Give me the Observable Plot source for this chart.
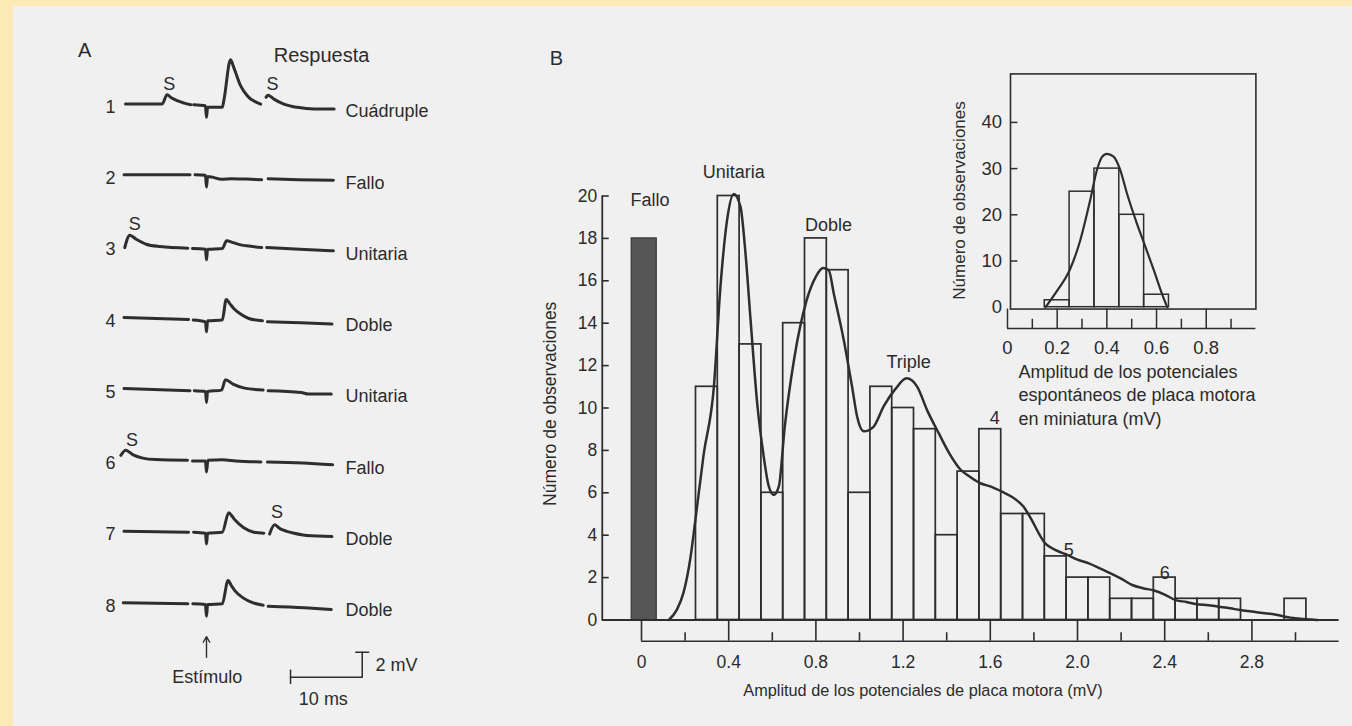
<!DOCTYPE html>
<html><head><meta charset="utf-8">
<script src="https://cdn.jsdelivr.net/npm/d3@7"></script>
<script src="https://cdn.jsdelivr.net/npm/@observablehq/plot@0.6"></script>
<style>
html,body{margin:0;padding:0;}
body{width:1352px;height:726px;background:#fbeab6;overflow:hidden;position:relative;font-family:"Liberation Sans",Arial,sans-serif;}
#page{position:absolute;left:13px;top:6px;right:0;bottom:0;background:#f0f0f0;}
#fig{position:absolute;left:0;top:0;width:1352px;height:726px;}
</style></head><body><div id="page"></div><div id="fig"></div>
<script>
// ---------------- Panel A: intracellular traces (t in ms from stimulus, v in mV from baseline) ----------------
const rowNumbers = ["1","2","3","4","5","6","7","8"];
const responseLabels = ["Cuádruple","Fallo","Unitaria","Doble","Unitaria","Fallo","Doble","Doble"];
const trace1 = [
  [[-11.3,0],[-6.2,0],[-5.5,0.75],[-4.9,0.5],[-4.1,0.27],[-3.1,0.08],[-2.2,-0.05]],
  [[-1.8,-0.05],[-0.15,-0.13],[0,-1.06],[0.15,-0.26],[2.2,-0.26],[2.45,0.4],[3.35,3.55],[3.7,3.1],[4.05,2.54],[4.75,1.47],[5.3,0.95],[5.9,0.54],[6.7,0.22],[7.55,0]],
  [[8.3,0.55],[8.6,0.7],[9.4,0.4],[10.8,0],[12.65,-0.26],[15.0,-0.4],[17.8,-0.4]]
];
const trace2 = [
  [[-11.5,0.05],[-2.3,0.05]],
  [[-1.6,0.05],[-0.15,0],[0,-0.93],[0.15,-0.1],[0.7,-0.13],[2.1,-0.32],[3.5,-0.27],[5.5,-0.3],[7.7,-0.35]],
  [[8.6,-0.27],[12.8,-0.35],[17.7,-0.4]]
];
const trace3 = [
  [[-11.4,-0.08],[-10.7,0.91],[-9.8,0.59],[-8.4,0.19],[-6.5,0],[-2.6,-0.13]],
  [[-1.95,-0.16],[-0.15,-0.21],[0,-1.06],[0.15,-0.21],[2.2,-0.16],[2.8,0.46],[3.7,0.32],[4.6,0.16],[5.6,0.06],[7.7,-0.08]],
  [[8.4,-0.08],[13.0,-0.21],[17.7,-0.34]]
];
const trace4 = [
  [[-11.5,0.03],[-2.5,-0.13]],
  [[-1.85,-0.18],[-0.15,-0.32],[0,-1.12],[0.15,-0.24],[2.2,-0.18],[2.75,1.47],[3.3,1.1],[3.8,0.75],[4.75,0.3],[5.9,-0.05],[7.8,-0.24]],
  [[8.5,-0.32],[13.1,-0.4],[17.5,-0.5]]
];
const trace5 = [
  [[-11.5,0.05],[-2.3,-0.13]],
  [[-1.7,-0.13],[-0.15,-0.19],[0,-1.07],[0.15,-0.19],[2.1,-0.08],[2.65,0.75],[3.7,0.4],[5.3,0.08],[7.9,-0.08]],
  [[8.6,-0.13],[13.2,-0.27],[14.2,-0.4],[17.4,-0.4]]
];
const trace6 = [
  [[-11.95,0.4],[-11.25,0.8],[-10.3,0.46],[-8.9,0.18],[-7.1,0.06],[-2.65,0]],
  [[-1.95,-0.05],[-0.15,-0.05],[0,-0.93],[0.2,0],[2.2,0.05],[4.1,-0.05],[7.6,-0.13]],
  [[8.5,-0.13],[13.4,-0.21],[17.6,-0.35]]
];
const trace7 = [
  [[-11.5,0.03],[-2.5,-0.05]],
  [[-1.8,-0.05],[-0.15,-0.13],[0,-0.99],[0.15,-0.13],[2.2,-0.05],[3.1,1.5],[3.6,1.2],[4.05,0.88],[5.2,0.3],[6.6,-0.05],[8.0,-0.13]],
  [[8.8,-0.19],[9.5,0.54],[10.3,0.22],[11.2,0.02],[12.2,-0.13],[14.0,-0.32],[17.5,-0.4]]
];
const trace8 = [
  [[-11.6,0],[-2.6,-0.08]],
  [[-1.9,-0.08],[-0.15,-0.13],[0,-1.07],[0.15,-0.13],[2.2,-0.08],[3.0,1.78],[3.5,1.35],[3.95,0.98],[5.1,0.4],[6.5,0],[7.9,-0.19]],
  [[8.6,-0.27],[13.7,-0.4],[17.4,-0.54]]
];
const traces = [trace1, trace2, trace3, trace4, trace5, trace6, trace7, trace8];
// spontaneous miniature potentials marked "S": row index, time (ms), label height (mV)
const spontRow = [0, 0, 2, 5, 6];
const spontTime = [-5.2, 9.2, -10.0, -10.4, 9.85];
const spontLabelV = [1.6, 1.6, 1.8, 1.6, 1.55];
const scaleBarMs = 10, scaleBarMv = 2;

// ---------------- Panel B: histogram of end-plate potential amplitudes ----------------
const mainBinCenters = [0.3,0.4,0.5,0.6,0.7,0.8,0.9,1.0,1.1,1.2,1.3,1.4,1.5,1.6,1.7,1.8,1.9,2.0,2.1,2.2,2.3,2.4,2.5,2.6,2.7,2.8,2.9,3.0];
const mainCounts     = [11, 20, 13, 6, 14, 18, 16.5, 6, 11, 10, 9, 4, 7, 9, 5, 5, 3, 2, 2, 1, 1, 2, 1, 1, 1, 0, 0, 1];
const binWidth = 0.1;
const failureCount = 18;          // "Fallo" bar at 0 mV
const failureRange = [-0.045, 0.07];
const mainCurveX = [0.125,0.163,0.193,0.224,0.247,0.285,0.332,0.362,0.393,0.423,0.454,0.477,0.5,0.531,0.558,0.584,0.607,0.63,0.657,0.7,0.758,0.8,0.833,0.859,0.882,0.928,0.966,0.989,1.02,1.063,1.112,1.165,1.216,1.265,1.31,1.364,1.41,1.463,1.5,1.554,1.6,1.654,1.7,1.753,1.78,1.853,1.9,1.953,2.0,2.052,2.1,2.152,2.2,2.251,2.3,2.348,2.4,2.45,2.5,2.547,2.6,2.645,2.7,2.746,2.8,2.85,2.9,2.952,3.0,3.05,3.1];
const mainCurveY = [0,0.5,1.3,2.9,4.7,7.8,11.0,15.7,18.9,20.1,19.5,17.3,14.2,10.2,7.9,6.3,5.9,6.3,9.1,12.3,15.1,16.2,16.6,16.5,15.4,13.2,11.0,9.6,8.9,9.1,10.1,10.9,11.4,11.0,9.9,8.8,7.9,7.1,6.8,6.45,6.3,6.05,5.8,5.34,4.9,3.6,3.3,3.07,2.85,2.67,2.45,2.2,1.95,1.65,1.5,1.4,1.2,0.94,0.85,0.74,0.7,0.63,0.55,0.47,0.4,0.33,0.27,0.16,0.08,0.03,0];
const mainYTicks = [0,2,4,6,8,10,12,14,16,18,20];
const mainMajorTicks = [0,0.4,0.8,1.2,1.6,2.0,2.4,2.8];
const mainMinorTicks = [0.2,0.6,1.0,1.4,1.8,2.2,2.6,3.0];
const peakNames = ["Unitaria","Doble","Triple","4","5","6"];
const peakLabelX = [0.423,0.858,1.225,1.62,1.96,2.4];
const peakLabelY = [21.1,18.6,12.16,9.5,3.28,2.19];

// ---------------- Inset: miniature end-plate potentials ----------------
const insetBinCenters = [0.2,0.3,0.4,0.5,0.6];
const insetCounts = [1.5,25,30,20,2.7];
const insetCurveX = [0.153,0.2,0.25,0.293,0.333,0.36,0.38,0.4,0.427,0.452,0.481,0.521,0.553,0.589,0.622,0.643];
const insetCurveY = [0,3.6,8,14.5,23.2,29.7,32.5,33.2,32.6,30,24.6,18.1,13.4,8,2.9,0];
const insetYTicks = [0,10,20,30,40];
const insetMajorTicks = [0,0.2,0.4,0.6,0.8];
const insetMinorTicks = [0.1,0.3,0.5,0.7,0.9];
const insetXTitle = ["Amplitud de los potenciales","espontáneos de placa motora","en miniatura (mV)"];

// ---------------- drawing ----------------
const W = 1352, H = 726;
const INK = "#2e2e2e";
const fmt = d => d === 0 ? "0" : d.toFixed(1);
const baseStyle = {background:"transparent", overflow:"visible", position:"absolute", left:"0px", top:"0px",
  fontFamily:'"Liberation Sans", Arial, sans-serif', fontSize:"18px", color:"#2b2b2b"};
const fig = document.getElementById("fig");

// Panel A
const rowGap = 5.7;
const traceData = traces.flatMap((segs, r) => segs.flatMap((seg, s) =>
  seg.map(([t, v]) => ({t, Y: v - r * rowGap, key: r * 10 + s}))));
const rowText = rowNumbers.map((n, r) => ({n, lab: responseLabels[r], Y: -r * rowGap}));
const spont = spontRow.map((r, i) => ({t: spontTime[i], Y: spontLabelV[i] - r * rowGap}));
const sbT0 = 11.72, sbY = -45.85;
const scaleBar = [
  {k:0, t:sbT0, Y:sbY - 0.5}, {k:0, t:sbT0, Y:sbY + 0.55},
  {k:1, t:sbT0, Y:sbY}, {k:1, t:sbT0 + scaleBarMs, Y:sbY}, {k:1, t:sbT0 + scaleBarMs, Y:sbY + scaleBarMv},
  {k:2, t:sbT0 + scaleBarMs - 0.9, Y:sbY + scaleBarMv}, {k:2, t:sbT0 + scaleBarMs + 0.9, Y:sbY + scaleBarMv}
];

const plotA = Plot.plot({
  width: W, height: H,
  marginLeft: 105.62, marginRight: 959.58, marginTop: 30, marginBottom: 0,
  x: {domain: [-14, 26], axis: null},
  y: {domain: [-49.792, 5.888], axis: null},
  style: baseStyle,
  marks: [
    Plot.line(traceData, {x: "t", y: "Y", z: "key", curve: "monotone-x", stroke: INK, strokeWidth: 3, strokeLinecap: "round", strokeLinejoin: "round"}),
    Plot.text(rowText, {x: () => -13.4, y: d => d.Y - 0.24, text: "n", fontSize: 18}),
    Plot.text(rowText, {x: () => 19.39, y: d => d.Y - 0.6, text: "lab", textAnchor: "start", fontSize: 18}),
    Plot.text(spont, {x: "t", y: "Y", text: () => "S", fontSize: 18}),
    Plot.text(["A"], {x: () => -17.0, y: () => 4.29, fontSize: 20}),
    Plot.text(["Respuesta"], {x: () => 16.04, y: () => 3.89, fontSize: 20}),
    Plot.arrow([{x1: 0, y1: -44.25, x2: 0, y2: -42.6}], {x1: "x1", y1: "y1", x2: "x2", y2: "y2", stroke: INK, strokeWidth: 1.4, headLength: 7}),
    Plot.text(["Estímulo"], {x: () => 0.1, y: () => -45.85, fontSize: 18}),
    Plot.line(scaleBar, {x: "t", y: "Y", z: "k", stroke: INK, strokeWidth: 1.5}),
    Plot.text(["2 mV"], {x: () => 23.57, y: () => -44.9, textAnchor: "start", fontSize: 18}),
    Plot.text(["10 ms"], {x: () => 16.3, y: () => -47.6, fontSize: 18})
  ]
});
fig.appendChild(plotA);

// Panel B main histogram
const mainBins = mainBinCenters.map((c, i) => ({x1: c - binWidth / 2, x2: c + binWidth / 2, count: mainCounts[i]})).filter(d => d.count > 0);
const mainCurve = mainCurveX.map((x, i) => ({x, y: mainCurveY[i]}));
const peaks = peakNames.map((text, i) => ({text, x: peakLabelX[i], y: peakLabelY[i]}));

const plotB = Plot.plot({
  width: W, height: H,
  marginLeft: 601.76, marginRight: 13.4, marginTop: 167.94, marginBottom: 85.3,
  x: {domain: [-0.18, 3.2], axis: null},
  y: {domain: [-1, 21.3], axis: null},
  style: baseStyle,
  marks: [
    Plot.rect([{x1: failureRange[0], x2: failureRange[1], count: failureCount}], {x1: "x1", x2: "x2", y1: 0, y2: "count", fill: "#565656", stroke: "#3a3a3a", strokeWidth: 1.2}),
    Plot.rect(mainBins, {x1: "x1", x2: "x2", y1: 0, y2: "count", fill: "none", stroke: INK, strokeWidth: 1.7}),
    Plot.line(mainCurve, {x: "x", y: "y", curve: "monotone-x", stroke: INK, strokeWidth: 2.5}),
    Plot.ruleX([-0.18], {y1: 0, y2: 20, stroke: INK, strokeWidth: 1.8}),
    Plot.ruleY(mainYTicks, {x1: -0.18, x2: -0.148, stroke: INK, strokeWidth: 1.6}),
    Plot.ruleY([0], {x1: -0.18, x2: 3.2, stroke: INK, strokeWidth: 1.8}),
    Plot.ruleY([-1], {x1: 0, x2: 3.2, stroke: INK, strokeWidth: 1.6}),
    Plot.ruleX(mainMajorTicks, {y1: -1, y2: 0, stroke: INK, strokeWidth: 1.6}),
    Plot.ruleX(mainMinorTicks, {y1: -1, y2: -0.6, stroke: INK, strokeWidth: 1.6}),
    Plot.axisX({ticks: mainMajorTicks, tickSize: 0, tickPadding: 14, tickFormat: fmt, fontSize: 17.5, label: null}),
    Plot.axisY({ticks: mainYTicks, tickSize: 0, tickPadding: 5, fontSize: 17.5, label: null}),
    Plot.text(peaks, {x: "x", y: "y", text: "text", fontSize: 18}),
    Plot.text(["Fallo"], {x: () => -0.05, y: () => 19.8, textAnchor: "start", fontSize: 18}),
    Plot.text(["Número de observaciones"], {x: () => -0.417, y: () => 10.2, rotate: -90, fontSize: 17.5}),
    Plot.text(["Amplitud de los potenciales de placa motora (mV)"], {x: () => 0.467, y: () => -3.33, textAnchor: "start", fontSize: 16.3}),
    Plot.text(["B"], {x: () => -0.39, y: () => 26.49, fontSize: 20})
  ]
});
fig.appendChild(plotB);

// Inset
const insetBins = insetBinCenters.map((c, i) => ({x1: c - binWidth / 2, x2: c + binWidth / 2, count: insetCounts[i]}));
const insetCurve = insetCurveX.map((x, i) => ({x, y: insetCurveY[i]}));
const plotC = Plot.plot({
  width: W, height: H,
  marginLeft: 1007, marginRight: 96.6, marginTop: 73.39, marginBottom: 417.45,
  x: {domain: [0, 1], axis: null},
  y: {domain: [-0.4, 50.5], axis: null},
  style: baseStyle,
  marks: [
    Plot.rect(insetBins, {x1: "x1", x2: "x2", y1: 0, y2: "count", fill: "none", stroke: INK, strokeWidth: 1.5}),
    Plot.line(insetCurve, {x: "x", y: "y", curve: "monotone-x", stroke: INK, strokeWidth: 2.2}),
    Plot.frame({insetLeft: 3, stroke: INK, strokeWidth: 1.6}),
    Plot.ruleY(insetYTicks.filter(d => d > 0), {x1: 0.012, x2: 0.042, stroke: INK, strokeWidth: 1.5}),
    Plot.ruleY([-4.6], {x1: 0, x2: 1, stroke: INK, strokeWidth: 1.5}),
    Plot.ruleX(insetMajorTicks, {y1: -4.6, y2: -0.4, stroke: INK, strokeWidth: 1.5}),
    Plot.ruleX(insetMinorTicks, {y1: -4.6, y2: -2.6, stroke: INK, strokeWidth: 1.5}),
    Plot.axisX({ticks: insetMajorTicks, tickSize: 0, tickPadding: 31.5, tickFormat: fmt, fontSize: 18.5, label: null}),
    Plot.axisY({ticks: insetYTicks, tickSize: 0, tickPadding: 5.5, fontSize: 18.5, label: null}),
    Plot.text(["Número de observaciones"], {x: () => -0.193, y: () => 23.1, rotate: -90, fontSize: 17}),
    Plot.text(insetXTitle, {x: () => 0.044, y: (d, i) => -14.07 - i * 5.04, textAnchor: "start", fontSize: 18})
  ]
});
fig.appendChild(plotC);
</script></body></html>
